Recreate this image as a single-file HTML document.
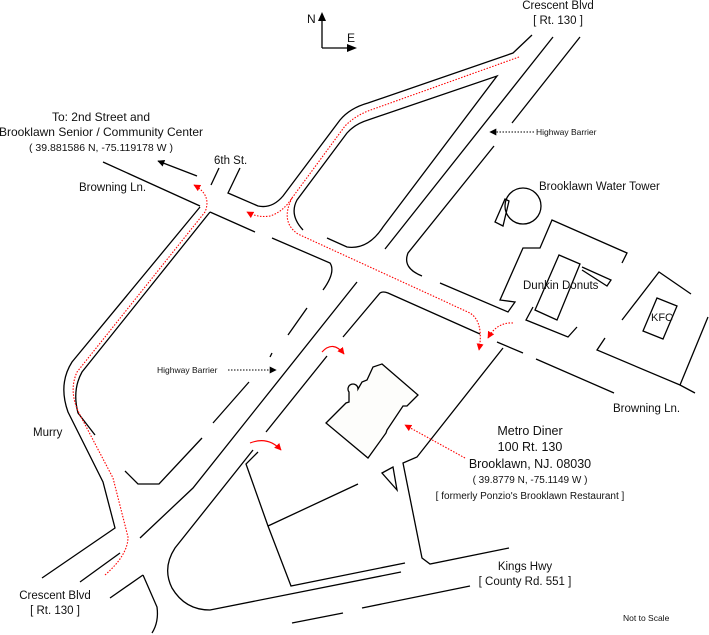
<!DOCTYPE html>
<html><head><meta charset="utf-8"><style>
html,body{margin:0;padding:0;background:#fff;}
svg{display:block;}
text{font-family:"Liberation Sans",sans-serif;fill:#111;}
</style></head><body>
<svg width="709" height="635" viewBox="0 0 709 635" xmlns="http://www.w3.org/2000/svg">
<defs>
<marker id="ar" viewBox="0 0 10 10" refX="9" refY="5" markerWidth="7" markerHeight="7" orient="auto-start-reverse" markerUnits="userSpaceOnUse"><path d="M0,0 L10,5 L0,10 z" fill="red"/></marker>
<marker id="ab" viewBox="0 0 10 10" refX="9" refY="5" markerWidth="8" markerHeight="7" orient="auto" markerUnits="userSpaceOnUse"><path d="M0,0 L10,5 L0,10 z" fill="#000"/></marker>
</defs>
<g fill="none" stroke="#000" stroke-width="1.3">
<path d="M322,48 V18 M322,48 H348"/>
<path d="M197,176 L158,161" marker-end="url(#ab)"/>
<path d="M219,168 L211,185"/>
<path d="M240,168 L228,193 L258,206 Q272,209 283,196 L340,120 Q350,108 368,103 L513,53 L532,35"/>
<path d="M303,230 Q289,215 297,200 L347,133 Q355,124 368,120 L497,76 L383,227 Q368,250 347,247 L327,238"/>
<path d="M553,37 L385,249"/>
<path d="M580,37 L512,123"/>
<path d="M494,146 L408,253 Q402,268 422,276"/>
<path d="M440,283 L508,312 L515,302 L500,300 L523,248 L540,248 L552,220 L627,253 L622,263"/>
<circle cx="523" cy="206" r="18"/>
<path d="M495,222 L505,199 L509,201 L503,226 Z"/>
<path d="M559,255 L580,264 L557,320 L535,310 Z"/>
<path d="M582,267 L611,280 L607,286 L582,270"/>
<path d="M533,307 L526,320 L568,337 L577,327"/>
<path d="M622,320 L659,272 L691,294"/>
<path d="M605,338 L597,350 L680,385 L695,393"/>
<path d="M708,317 L680,385"/>
<path d="M657,298 L677,306 L663,339 L643,331 Z"/>
<path d="M103,162 L200,206"/>
<path d="M210,212 L255,232"/>
<path d="M272,238 L330,263 Q336,272 323,290"/>
<path d="M343,337 L380,293 Q383,291 388,293 L480,334"/>
<path d="M497,342 L523,353"/>
<path d="M536,359 L614,393"/>
<path d="M200,207 L72,362 Q58,384 68,412 L103,482 L115,528 L42,578"/>
<path d="M210,212 L82,372 Q72,390 78,413 L95,435"/>
<path d="M307,308 L288,335"/>
<path d="M357,282 L193,488 L140,538"/>
<path d="M327,356 L266,432"/>
<path d="M249,382 L213,423"/>
<path d="M202,438 L159,484 L138,484 L125,471"/>
<path d="M272,353 L270,357"/>
<path d="M120,553 L80,582"/>
<path d="M143,575 L110,598"/>
<path d="M143,575 L157,607 Q159,622 152,633"/>
<path d="M258,452 L246,464 L268,526 L291,586 L405,563"/>
<path d="M268,526 L358,484"/>
<path d="M253,450 L175,548 Q162,568 172,588 Q185,610 210,610 L401,572"/>
<path d="M292,623 L343,613"/>
<path d="M362,608 L470,586"/>
<path d="M503,348 L417,457 L403,463 L422,558 L430,564 L509,548"/>
<path d="M382,473 L393,467 L397,490 Z"/>
<path d="M326,423 L346,403 L349,402 L349,392 A5,5 0 1 1 358,389 L362,382 L367,380 L373,367 L382,364 L418,395 L407,406 L403,406 L387,430 L386,433 L368,458 Z" fill="#fdfdfb"/>
</g>
<path d="M322,21 L318,21 L322,12 L326,21Z" fill="#000"/>
<path d="M347,44 L357,48 L347,52Z" fill="#000"/>
<path d="M534,132 L490,132" stroke="#000" stroke-width="1" stroke-dasharray="1.5,1.5" fill="none" marker-end="url(#ab)"/>
<path d="M228,370 L276,370" stroke="#000" stroke-width="1" stroke-dasharray="1.5,1.5" fill="none" marker-end="url(#ab)"/>
<g fill="none" stroke="red" stroke-width="1.1" stroke-dasharray="1.5,1.5">
<path d="M519,57 L368,111 Q355,116 345,126 L292,198 Q283,212 270,216 Q258,218 247,212" marker-end="url(#ar)"/>
<path d="M292,198 Q280,222 298,234 L470,313 Q484,322 479,350" marker-end="url(#ar)"/>
<path d="M513,323 Q497,322 488,338" marker-end="url(#ar)"/>
<path d="M105,575 Q128,555 128,537 L113,478 L80,415 Q68,392 77,372 L205,212 Q212,195 194,185" marker-end="url(#ar)"/>
<path d="M465,458 L405,425" marker-end="url(#ar)"/>
</g>
<g fill="none" stroke="red" stroke-width="1.2">
<path d="M322,352 Q333,340 344,354" marker-end="url(#ar)"/>
<path d="M250,443 Q268,436 281,450" marker-end="url(#ar)"/>
</g>
<g font-size="12">
<text x="307" y="23" font-size="12">N</text>
<text x="347" y="42" font-size="12">E</text>
<text x="101" y="121" text-anchor="middle">To: 2nd Street and</text>
<text x="101" y="136" text-anchor="middle">Brooklawn Senior / Community Center</text>
<text x="101" y="151" text-anchor="middle" font-size="10.5">( 39.881586 N, -75.119178 W )</text>
<text x="214" y="164" font-size="11.5">6th St.</text>
<text x="79" y="191" font-size="11.5">Browning Ln.</text>
<text x="558" y="9" text-anchor="middle" font-size="11.5">Crescent Blvd</text>
<text x="558" y="24" text-anchor="middle" font-size="11.5">[ Rt. 130 ]</text>
<text x="536" y="135" font-size="8.5">Highway Barrier</text>
<text x="157" y="373" font-size="8.5">Highway Barrier</text>
<text x="539" y="190" font-size="11.5">Brooklawn Water Tower</text>
<text x="523" y="289" font-size="11.5">Dunkin Donuts</text>
<text x="651" y="321" font-size="11">KFC</text>
<text x="613" y="412" font-size="11.5">Browning Ln.</text>
<text x="530" y="435" text-anchor="middle" font-size="12.5">Metro Diner</text>
<text x="530" y="451" text-anchor="middle" font-size="12.5">100 Rt. 130</text>
<text x="530" y="468" text-anchor="middle" font-size="12.5">Brooklawn, NJ. 08030</text>
<text x="530" y="483" text-anchor="middle" font-size="10">( 39.8779 N, -75.1149 W )</text>
<text x="530" y="499" text-anchor="middle" font-size="10">[ formerly Ponzio's Brooklawn Restaurant ]</text>
<text x="33" y="436" font-size="11.5">Murry</text>
<text x="55" y="599" text-anchor="middle" font-size="11.5">Crescent Blvd</text>
<text x="55" y="614" text-anchor="middle" font-size="11.5">[ Rt. 130 ]</text>
<text x="525" y="570" text-anchor="middle" font-size="11.5">Kings Hwy</text>
<text x="525" y="585" text-anchor="middle" font-size="11.5">[ County Rd. 551 ]</text>
<text x="623" y="621" font-size="8.5">Not to Scale</text>
</g>
</svg>
</body></html>
